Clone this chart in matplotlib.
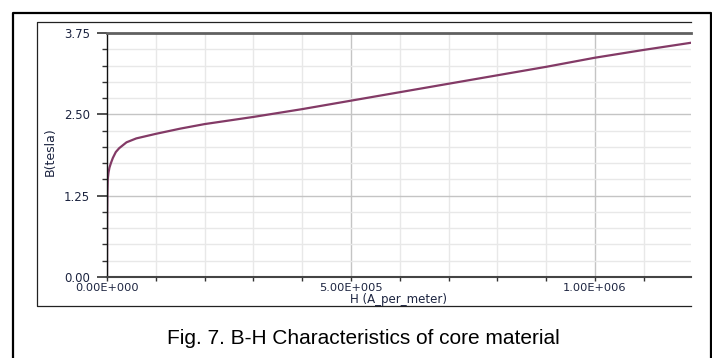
import matplotlib
matplotlib.use("Agg")
import matplotlib.pyplot as plt
from matplotlib.ticker import MultipleLocator, FuncFormatter

plt.rcParams["font.family"] = ["Liberation Sans", "DejaVu Sans"]

# B-H curve
h_values = [0, 300, 800, 1500, 3000, 5000, 8000, 12000, 18000, 25000, 40000, 60000,
            100000, 150000, 200000, 300000, 400000, 500000, 600000, 700000,
            800000, 900000, 1000000, 1100000, 1197000]
b_values = [0, 0.9, 1.3, 1.5, 1.6, 1.68, 1.75, 1.83, 1.92, 1.98, 2.07, 2.13,
            2.20, 2.28, 2.35, 2.46, 2.58, 2.71, 2.84, 2.97,
            3.10, 3.23, 3.37, 3.49, 3.60]
x_labels = {0: "0.00E+000", 500000: "5.00E+005", 1000000: "1.00E+006"}
y_ticks = [0, 1.25, 2.50, 3.75]
caption = "Fig. 7. B-H Characteristics of core material"

W, H = 712, 358
fig = plt.figure(figsize=(W / 100, H / 100), dpi=100)

# frame lines (pixel coords)
bg = fig.add_axes([0, 0, 1, 1], zorder=0)
bg.set_xlim(0, W)
bg.set_ylim(H, 0)
bg.axis("off")
bg.plot([13, 13, 711, 711], [H + 5, 12.5, 12.5, H + 5], color="black", lw=1.6)
bg.plot([691, 37, 37, 691], [22, 22, 306, 306], color="#222222", lw=0.9)

txt = "#1c2440"
tick_font = "DejaVu Sans"
ax = fig.add_axes([107 / W, (H - 277) / H, (691 - 107) / W, (277 - 33) / H], zorder=1)
ax.plot(h_values, b_values, color="#833a66", lw=1.6)
ax.set_xlim(0, 1197000)
ax.set_ylim(0, 3.75)

ax.xaxis.set_major_locator(MultipleLocator(100000))
ax.xaxis.set_major_formatter(FuncFormatter(lambda v, p: x_labels.get(int(round(v)), "")))
ax.set_yticks(y_ticks)
ax.yaxis.set_major_formatter(FuncFormatter(lambda v, p: "%.2f" % v))
ax.yaxis.set_minor_locator(MultipleLocator(0.25))

ax.tick_params(axis="x", direction="out", length=3, width=1, pad=1.5,
               labelsize=8.2, labelcolor=txt, color="#333333")
ax.tick_params(axis="y", which="major", direction="out", length=7.2, width=1.2,
               pad=5, labelsize=8.5, labelcolor=txt, color="#333333")
ax.tick_params(axis="y", which="minor", direction="out", length=3.6, width=1,
               color="#333333")
for lab in ax.get_xticklabels() + ax.get_yticklabels():
    lab.set_fontfamily(tick_font)

for v in range(1, 12):
    c = "#c4c4c4" if v % 5 == 0 else "#e8e8e8"
    ax.axvline(v * 100000, color=c, lw=1, zorder=0)
for i in range(1, 15):
    c = "#c4c4c4" if i % 5 == 0 else "#e8e8e8"
    ax.axhline(i * 0.25, color=c, lw=1, zorder=0)

ax.spines["right"].set_visible(False)
ax.spines["top"].set_color("#606060")
ax.spines["top"].set_linewidth(2)
ax.spines["bottom"].set_color("#444444")
ax.spines["bottom"].set_linewidth(1.5)
ax.spines["left"].set_color("#111111")
ax.spines["left"].set_linewidth(1)

fig.text(399 / W, 1 - 300 / H, "H (A_per_meter)", ha="center", va="center",
         fontsize=8.5, color=txt, family=tick_font)
fig.text(50 / W, 1 - 152 / H, "B(tesla)", ha="center", va="center",
         rotation=90, fontsize=9, color=txt, family=tick_font)
fig.text(363 / W, 1 - 339 / H, caption, ha="center", va="center",
         fontsize=15, color="black")

fig.savefig("out.png", dpi=100)
